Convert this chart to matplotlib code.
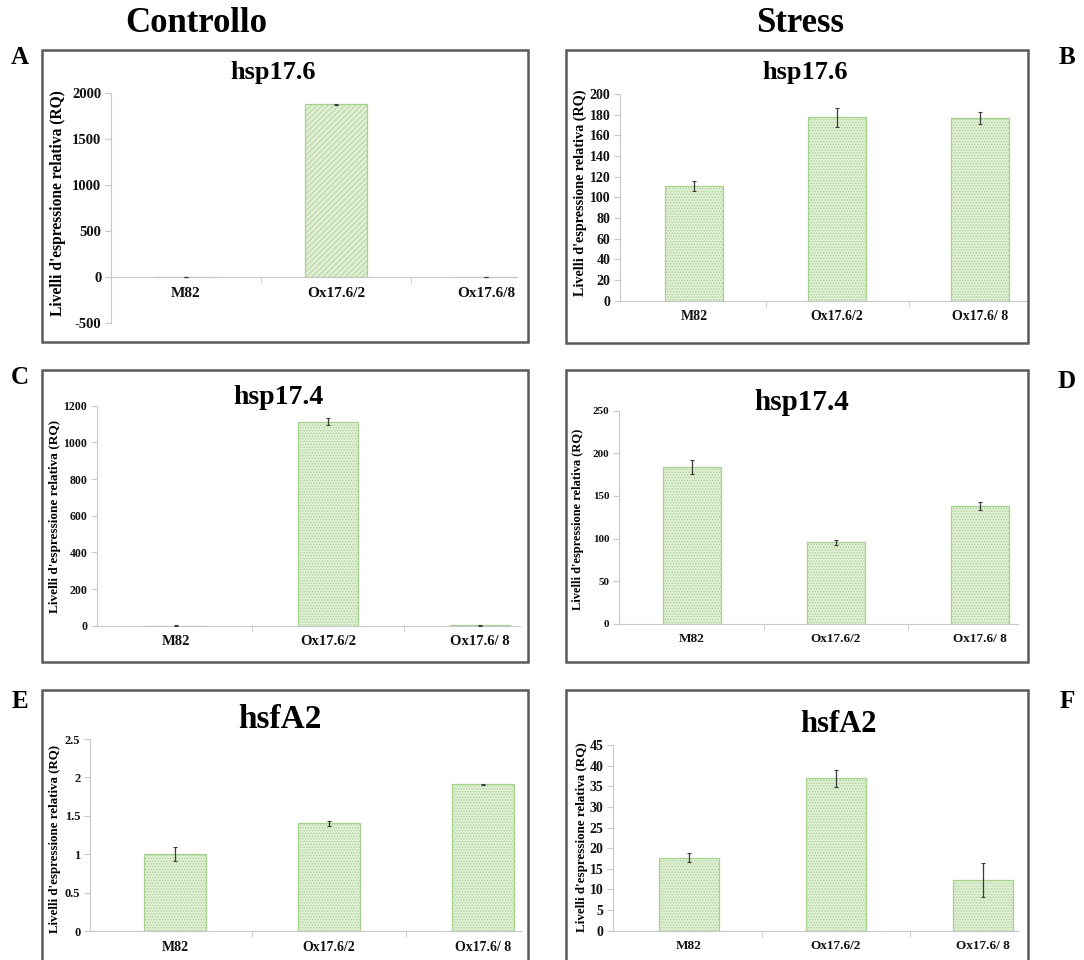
import matplotlib
matplotlib.use("Agg")
import matplotlib.pyplot as plt
from matplotlib.patches import Rectangle

# ---------------- data ----------------
categories = ["M82", "Ox17.6/2", "Ox17.6/8"]
tick_labels_A = ["M82", "Ox17.6/2", "Ox17.6/8"]
tick_labels_other = ["M82", "Ox17.6/2", "Ox17.6/ 8"]

genes = ["hsp17.6", "hsp17.6", "hsp17.4", "hsp17.4", "hsfA2", "hsfA2"]
panel_letters = ["A", "B", "C", "D", "E", "F"]

A_vals = [1, 1877, 2]
A_err = [0.5, 8, 1]
B_vals = [111, 177.5, 176.5]
B_err = [5, 9, 6]
C_vals = [1, 1113, 1.5]
C_err = [0.3, 20, 0.5]
D_vals = [184, 95.5, 138]
D_err = [8, 3, 5]
E_vals = [1.0, 1.40, 1.91]
E_err = [0.09, 0.03, 0.01]
F_vals = [17.7, 36.9, 12.3]
F_err = [1.1, 2.1, 4.1]

A_ticks = [-500, 0, 500, 1000, 1500, 2000]
B_ticks = list(range(0, 201, 20))
C_ticks = list(range(0, 1201, 200))
D_ticks = list(range(0, 251, 50))
E_ticks = [0, 0.5, 1, 1.5, 2, 2.5]
E_tick_labels = ["0", "0.5", "1", "1.5", "2", "2.5"]
F_ticks = list(range(0, 46, 5))

ylabel = "Livelli d'espressione relativa (RQ)"

# ---------------- figure ----------------
plt.rcParams["axes.unicode_minus"] = False
plt.rcParams["hatch.linewidth"] = 0.6

W, H = 1084, 960
fig = plt.figure(figsize=(W / 100, H / 100), dpi=100)
SERIF = ["Liberation Serif", "DejaVu Serif"]


def fx(x):
    return x / W


def fy(y):
    return 1 - y / H


def box(x0, y0, x1, y1):
    fig.patches.append(Rectangle((fx(x0), fy(y1)), fx(x1) - fx(x0), fy(y0) - fy(y1),
                                 transform=fig.transFigure, fill=False,
                                 edgecolor="#5a5a5a", linewidth=1.8, zorder=0))


# pos = (axis x, right end x, top y, bottom y) in pixels; first = pixel x of first bar centre
panels = [
    dict(vals=A_vals, err=A_err, ticks=A_ticks, tl=None, labels=tick_labels_A,
         pos=(111, 517, 93, 323), first=186, ylim=(-500, 2000), spacing=150, width=0.41,
         hatch="//////", ytfs=10.5, xtfs=11, title_xy=(273, 73), tfs=19,
         yl_xy=(58, 203), ylfs=11.2, box=(42, 50, 528, 342), letter_xy=(20, 58)),
    dict(vals=B_vals, err=B_err, ticks=B_ticks, tl=None, labels=tick_labels_other,
         pos=(620, 1027, 94, 300.7), first=694, ylim=(0, 200), spacing=143, width=0.40,
         hatch="......", ytfs=10, xtfs=10, title_xy=(805, 73), tfs=19,
         yl_xy=(580, 193), ylfs=10.2, box=(566, 50, 1028, 343), letter_xy=(1067, 58)),
    dict(vals=C_vals, err=C_err, ticks=C_ticks, tl=None, labels=tick_labels_other,
         pos=(97, 520, 405.7, 625.7), first=176, ylim=(0, 1200), spacing=152, width=0.40,
         hatch="......", ytfs=8.5, xtfs=10.5, title_xy=(278, 397), tfs=20,
         yl_xy=(55, 516), ylfs=9.5, box=(42, 370, 528, 662), letter_xy=(20, 378)),
    dict(vals=D_vals, err=D_err, ticks=D_ticks, tl=None, labels=tick_labels_other,
         pos=(619, 1018, 410.7, 623.7), first=692, ylim=(0, 250), spacing=144, width=0.40,
         hatch="......", ytfs=8, xtfs=9.5, title_xy=(802, 402), tfs=21,
         yl_xy=(578, 519), ylfs=9.0, box=(566, 370, 1028, 662), letter_xy=(1067, 382)),
    dict(vals=E_vals, err=E_err, ticks=E_ticks, tl=E_tick_labels, labels=tick_labels_other,
         pos=(90, 521, 739, 931), first=175, ylim=(0, 2.5), spacing=154, width=0.40,
         hatch="......", ytfs=9, xtfs=10, title_xy=(280, 720), tfs=24,
         yl_xy=(55, 839), ylfs=9.3, box=(42, 690, 528, 965), letter_xy=(20, 702)),
    dict(vals=F_vals, err=F_err, ticks=F_ticks, tl=None, labels=tick_labels_other,
         pos=(613, 1018, 745, 930.7), first=689, ylim=(0, 45), spacing=147, width=0.41,
         hatch="......", ytfs=10, xtfs=9.5, title_xy=(838, 725), tfs=22,
         yl_xy=(582, 837), ylfs=9.4, box=(566, 690, 1028, 965), letter_xy=(1067, 702)),
]

for i, p in enumerate(panels):
    x0, x1, ytop, ybot = p["pos"]
    box(*p["box"])
    ax = fig.add_axes([fx(x0), fy(ybot), fx(x1) - fx(x0), fy(ytop) - fy(ybot)])
    ax.set_facecolor("none")
    xs = list(range(len(categories)))
    ax.bar(xs, p["vals"], width=p["width"], color="#e1efd6", edgecolor="#a6d28f",
           linewidth=0.9, hatch=p["hatch"], zorder=2)
    ax.errorbar(xs, p["vals"], yerr=p["err"], fmt="none", ecolor="#3a3a3a",
                elinewidth=0.9, capsize=1.5, capthick=0.8, zorder=3)
    left = -(p["first"] - x0) / p["spacing"]
    right = (x1 - p["first"]) / p["spacing"]
    ax.set_xlim(left, right)
    ax.set_ylim(*p["ylim"])
    ax.set_yticks(p["ticks"])
    if p["tl"] is not None:
        ax.set_yticklabels(p["tl"])
    ax.set_xticks(xs)
    ax.set_xticklabels(p["labels"])
    ax.set_xticks([0.5, 1.5], minor=True)
    for s in ["top", "right"]:
        ax.spines[s].set_visible(False)
    ax.spines["left"].set_color("#c8c8c8")
    ax.spines["bottom"].set_color("#c8c8c8")
    ax.spines["bottom"].set_position(("data", 0))
    ax.tick_params(axis="y", length=4, color="#c8c8c8", labelsize=p["ytfs"], pad=3)
    ax.tick_params(axis="x", which="major", length=0, labelsize=p["xtfs"], pad=7)
    ax.tick_params(axis="x", which="minor", length=4, color="#c8c8c8", direction="out")
    for lab in ax.get_yticklabels() + ax.get_xticklabels():
        lab.set_fontfamily(SERIF)
        lab.set_fontweight("bold")
        lab.set_color("#111111")

    fig.text(fx(p["title_xy"][0]), fy(p["title_xy"][1]), genes[i], ha="center", va="center",
             fontsize=p["tfs"], fontweight="bold", family=SERIF)
    fig.text(fx(p["yl_xy"][0]), fy(p["yl_xy"][1]), ylabel, ha="center", va="center",
             rotation=90, fontsize=p["ylfs"], fontweight="bold", family=SERIF)
    fig.text(fx(p["letter_xy"][0]), fy(p["letter_xy"][1]), panel_letters[i], ha="center",
             va="center", fontsize=18, fontweight="bold", family=SERIF)

fig.text(fx(196), fy(24), "Controllo", ha="center", va="center", fontsize=25,
         fontweight="bold", family=SERIF)
fig.text(fx(800), fy(24), "Stress", ha="center", va="center", fontsize=25,
         fontweight="bold", family=SERIF)

fig.savefig("out.png", dpi=100, facecolor="white")
